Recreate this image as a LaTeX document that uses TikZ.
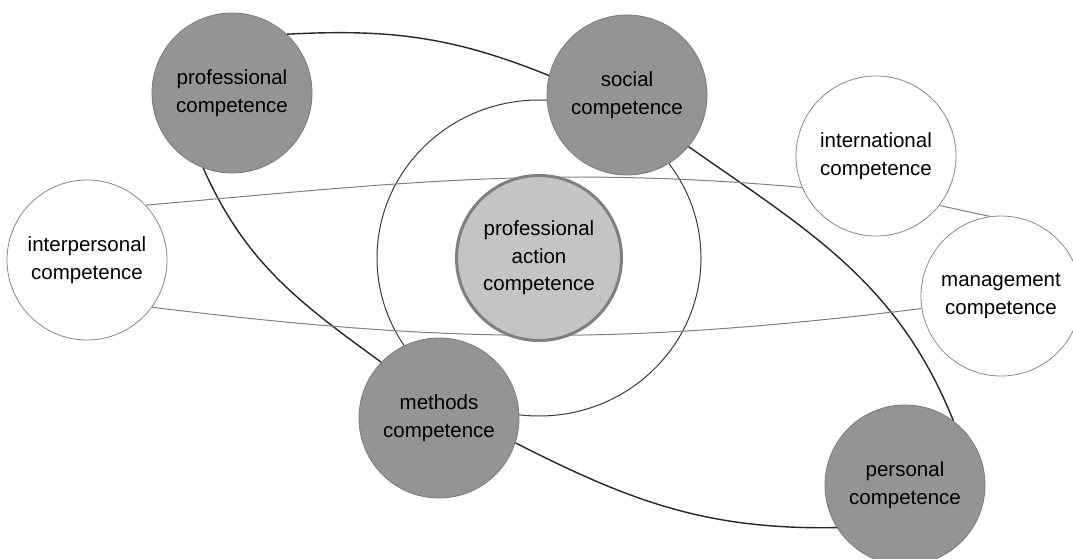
\documentclass[tikz,border=0pt]{standalone}
\usepackage{fontspec}
\setmainfont{Liberation Sans}
\usetikzlibrary{backgrounds}
\definecolor{darkfill}{HTML}{949494}
\definecolor{darkline}{HTML}{7A7A7A}
\definecolor{whiteline}{HTML}{8A8A8A}
\definecolor{centfill}{HTML}{C4C4C4}
\definecolor{centline}{HTML}{7F7F7F}
\definecolor{loopcol}{HTML}{262626}
\definecolor{ringcol}{HTML}{3A3A3A}
\definecolor{thincol}{HTML}{808080}
\begin{document}
\begin{tikzpicture}[x=1pt,y=1pt,
  comp/.style={circle, minimum size=160pt, inner sep=0pt, align=center,
    font=\fontsize{20.5}{27.5}\selectfont, text=black},
  darkc/.style={comp, fill=darkfill, draw=darkline, line width=0.8pt},
  whitec/.style={comp, fill=white, draw=whiteline, line width=0.8pt},
  centc/.style={comp, fill=centfill, draw=centline, line width=3pt, minimum size=165pt},
  loopline/.style={draw=loopcol, line width=1.4pt},
  ringline/.style={draw=ringcol, line width=1pt},
  thinline/.style={draw=thincol, line width=1pt}]
\useasboundingbox (0,0) rectangle (1073,558);
\clip (0,0) rectangle (1073,558);
\node[darkc] (prof) at (232,465) {professional\\competence};
\node[darkc] (soc) at (627,463) {social\\competence};
\node[whitec] (intl) at (876,402) {international\\competence};
\node[whitec] (inter) at (87,298) {interpersonal\\competence};
\node[centc] (central) at (539,300) {professional\\action\\competence};
\node[whitec] (mgmt) at (1001,262) {management\\competence};
\node[darkc] (meth) at (439,140) {methods\\competence};
\node[darkc] (pers) at (905,73) {personal\\competence};
\begin{scope}[on background layer]
\fill[white] (0,0) rectangle (1073,558);
\draw[ringline] (central.center) ellipse [x radius=162, y radius=158];
\draw[loopline] (prof.47) to[out=3,in=158] (soc.166);
\draw[loopline] (soc.-40) to[out=-35,in=112] (pers.53);
\draw[loopline] (pers.212) to[out=181,in=-27] (meth.-18);
\draw[loopline] (meth.136) to[out=144,in=-66] (prof.-111);
\draw[thinline] (inter.43) to[out=5,in=175] (intl.203);
\draw[thinline] (intl.-38) -- (mgmt.98);
\draw[thinline] (mgmt.189) to[out=187,in=-7] (inter.-36);
\end{scope}
\end{tikzpicture}
\end{document}
